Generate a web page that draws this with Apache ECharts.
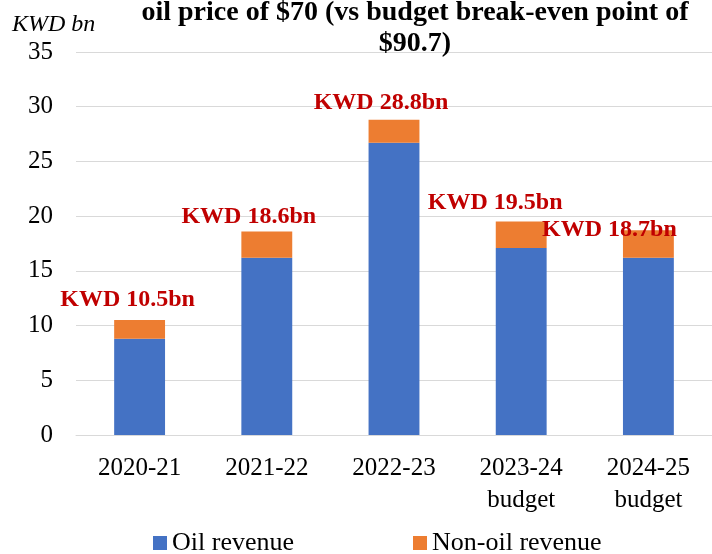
<!DOCTYPE html>
<html>
<head>
<meta charset="utf-8">
<script src="https://cdn.jsdelivr.net/npm/echarts@6/dist/echarts.min.js"></script>
<style>
  html, body { margin: 0; padding: 0; background: #fff; }
  #chart { width: 712px; height: 554px; }
</style>
</head>
<body>
<div id="chart"></div>
<script>
var years = ["2020-21", "2021-22", "2022-23", "2023-24\nbudget", "2024-25\nbudget"];
var oilRevenue = [8.8, 16.2, 26.7, 17.1, 16.2];
var nonOilRevenue = [1.7, 2.4, 2.1, 2.4, 2.5];
var totals = [10.5, 18.6, 28.8, 19.5, 18.7];
var yTicks = [0, 5, 10, 15, 20, 25, 30, 35];

// 标签位置微调（原图中标签是手动放的）
var labelOffsets = [[-12, -3], [-18, 2], [-13, 0], [-26, -2], [-39, 16]];

var serif = "Liberation Serif";
var myChart = echarts.init(document.getElementById("chart"));

var option = {
  animation: false,
  title: [
    {
      text: "oil price of $70 (vs budget break-even point of\n$90.7)",
      left: 410,
      textAlign: "center",
      top: -8,
      textStyle: { fontFamily: serif, fontWeight: "bold", fontSize: 28, lineHeight: 31, color: "#000" }
    },
    {
      text: "KWD bn",
      left: 7,
      top: 8,
      textStyle: { fontFamily: serif, fontStyle: "italic", fontWeight: "normal", fontSize: 24, color: "#000" }
    }
  ],
  legend: {
    top: 525,
    left: 148,
    itemWidth: 14,
    itemHeight: 14,
    itemGap: 119,
    icon: "rect",
    textStyle: { fontFamily: serif, fontSize: 26, color: "#000" },
    data: ["Oil revenue", "Non-oil revenue"]
  },
  grid: { left: 76, right: -4, top: 52, bottom: 119 },
  xAxis: {
    type: "category",
    data: years,
    axisTick: { show: false },
    axisLine: { lineStyle: { color: "#d9d9d9" } },
    axisLabel: { fontFamily: serif, fontSize: 25, color: "#000", margin: 17, lineHeight: 32 }
  },
  yAxis: {
    type: "value",
    min: 0,
    max: 35,
    interval: 5,
    axisLabel: {
      fontFamily: serif, fontSize: 25, color: "#000", margin: 23,
      formatter: function (v) { return yTicks.indexOf(v) >= 0 ? v : ""; }
    },
    splitLine: { lineStyle: { color: "#d9d9d9", width: 1 } }
  },
  series: [
    {
      name: "Oil revenue",
      type: "bar",
      stack: "rev",
      barWidth: "40%",
      itemStyle: { color: "#4472C4" },
      data: oilRevenue
    },
    {
      name: "Non-oil revenue",
      type: "bar",
      stack: "rev",
      itemStyle: { color: "#ED7D31" },
      data: nonOilRevenue.map(function (v, i) {
        return {
          value: v,
          label: {
            show: true,
            position: "top",
            offset: labelOffsets[i],
            formatter: "KWD " + totals[i] + "bn",
            fontFamily: serif, fontWeight: "bold", fontSize: 24, color: "#C00000"
          }
        };
      })
    }
  ]
};

myChart.setOption(option);
</script>
</body>
</html>
